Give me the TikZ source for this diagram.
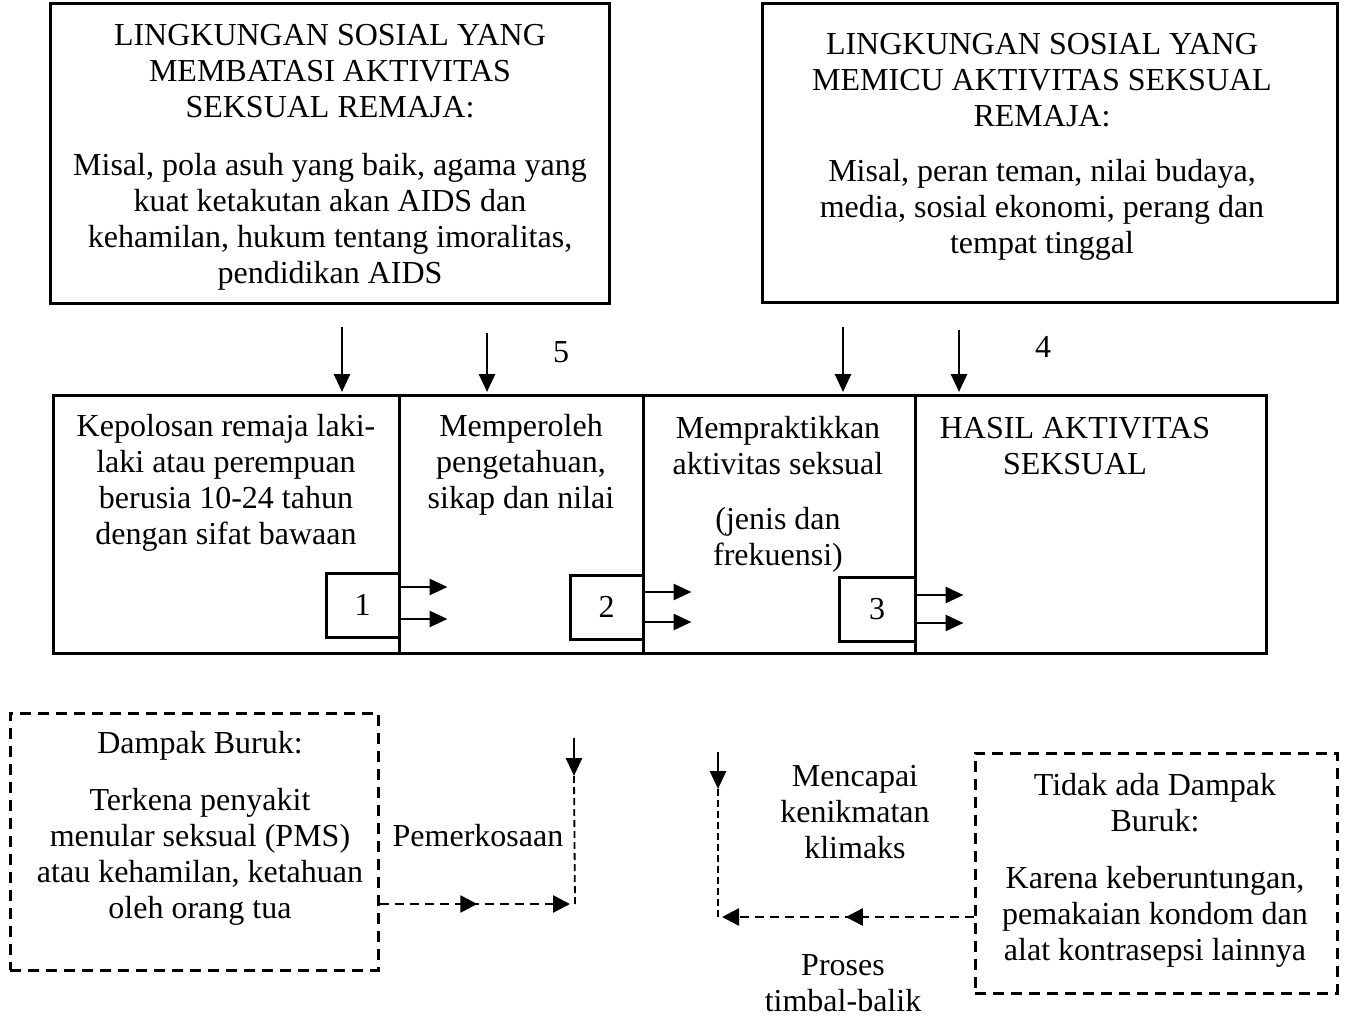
\documentclass[tikz,border=0pt]{standalone}
\usepackage{fontspec}
\setmainfont{Liberation Serif}
\usetikzlibrary{arrows.meta,decorations.markings}
\tikzstyle{box}=[draw, line width=3pt, inner sep=0pt]
\tikzstyle{dbox}=[box, dash pattern=on 11pt off 7pt]
\tikzstyle{txt}=[align=center, inner sep=0pt, font=\fontsize{32}{36}\selectfont]
\tikzstyle{arr}=[line width=2.8pt, -{Triangle[length=18pt,width=16pt]}]
\tikzstyle{darr}=[line width=2.6pt, dash pattern=on 9pt off 6pt, -{Triangle[length=17pt,width=17pt]}]
\tikzstyle{dline}=[line width=1.8pt, dash pattern=on 7pt off 4pt]
\tikzset{midarrow/.style={postaction={decorate,decoration={markings,
  mark=at position #1 with {\arrow{Triangle[length=17pt,width=17pt]}}}}}}
\newcommand{\outarrows}[3]{% box, upper y, lower y
  \foreach \yy in {#2,#3}
    \draw[arr] (#1.east |- 0,\yy) -- ++(47,0);
}

\begin{document}
\begin{tikzpicture}[x=1pt,y=-1pt]
\useasboundingbox (0,0) rectangle (1349,1017);

% social environment boxes
\node[box, minimum width=559pt, minimum height=300pt] (limit) at (329.5,153) {};
\node[box, minimum width=575pt, minimum height=299pt] (trigger) at (1049.5,152.5) {};
\node[txt] (limithead) at (330,71) {LINGKUNGAN SOSIAL YANG\\MEMBATASI AKTIVITAS\\SEKSUAL REMAJA:};
\node[txt] (limitbody) at (330,222) {Misal, pola asuh yang baik, agama yang\\kuat ketakutan akan AIDS dan\\kehamilan, hukum tentang imoralitas,\\pendidikan AIDS};
\node[txt] (trighead) at (1042,80) {LINGKUNGAN SOSIAL YANG\\MEMICU AKTIVITAS SEKSUAL\\REMAJA:};
\node[txt] (trigbody) at (1042,210) {Misal, peran teman, nilai budaya,\\media, sosial ekonomi, perang dan\\tempat tinggal};

% stages
\node[box, minimum width=346pt, minimum height=258pt] (c1) at (226,524) {};
\node[box, minimum width=244pt, minimum height=258pt] (c2) at (521,524) {};
\node[box, minimum width=272pt, minimum height=258pt] (c3) at (779,524) {};
\node[box, minimum width=351pt, minimum height=258pt] (c4) at (1090.5,524) {};
\node[txt] (c1text) at (226,483) {Kepolosan remaja laki-\\laki atau perempuan\\berusia 10-24 tahun\\dengan sifat bawaan};
\node[txt] (c2text) at (521,465) {Memperoleh\\pengetahuan,\\sikap dan nilai};
\node[txt] (c3text) at (778,446) {Mempraktikkan\\aktivitas seksual};
\node[txt] (c3note) at (778,540) {(jenis dan\\frekuensi)};
\node[txt] (c4text) at (1075,446) {HASIL AKTIVITAS\\SEKSUAL};

\node[box, txt, minimum width=73pt, minimum height=64pt] (s1) at (362.5,605) {1};
\node[box, txt, minimum width=73pt, minimum height=64pt] (s2) at (606.5,607) {2};
\node[box, txt, minimum width=76pt, minimum height=64pt] (s3) at (877,609) {3};
\outarrows{s1}{587}{619}
\outarrows{s2}{592}{622}
\outarrows{s3}{595}{623}

% influences from above
\foreach \xx/\yy in {342/327, 487/333, 843/327, 959/330}
  \draw[arr] (\xx,\yy) -- (\xx,392);
\node[txt] (five) at (561,352) {5};
\node[txt] (four) at (1043,347) {4};

% outcomes
\node[dbox, minimum width=368pt, minimum height=257pt] (bad) at (194,841.5) {};
\node[txt] (badhead) at (200,746) {Dampak Buruk:};
\node[txt] (badbody) at (200,857) {Terkena penyakit\\menular seksual (PMS)\\atau kehamilan, ketahuan\\oleh orang tua};
\node[dbox, minimum width=362pt, minimum height=240pt] (good) at (1156,873) {};
\node[txt] (goodhead) at (1155,803) {Tidak ada Dampak\\Buruk:};
\node[txt] (goodbody) at (1155,917) {Karena keberuntungan,\\pemakaian kondom dan\\alat kontrasepsi lainnya};

\node[txt] (rape) at (478,836) {Pemerkosaan};
\node[txt] (climax) at (855,812) {Mencapai\\kenikmatan\\klimaks};
\node[txt] (mutual) at (843,983) {Proses\\timbal-balik};

\coordinate (rapetop) at (574,738);
\coordinate (rapemid) at (574,776);
\coordinate (rapeend) at (575,904);
\coordinate (mutualtop) at (718,752);
\coordinate (mutualmid) at (718,789);
\coordinate (mutualend) at (718,917);

\draw[darr, midarrow=0.5, shorten >=5pt] (bad.east |- rapeend) -- (rapeend);
\draw[dline] (rapeend) -- (rapemid);
\draw[arr] (rapetop) -- (rapemid);
\draw[darr, midarrow=0.5, shorten >=4pt] (good.west |- mutualend) -- (mutualend);
\draw[dline] (mutualend) -- (mutualmid);
\draw[arr] (mutualtop) -- (mutualmid);
\end{tikzpicture}
\end{document}
